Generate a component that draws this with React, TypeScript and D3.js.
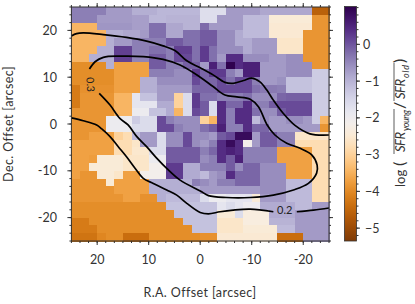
import React from 'react';
import * as d3 from 'd3';

// log(SFR young / SFR old) per cell, top row first, left (R.A. +25) to right (R.A. -25)
const row00 = [-.4,-.4,-.4,-.4,-.7,-.7,-.7,-.95,-.95,-.95,-1.05,-1.05,-1.05,-1.05,-1.05,-1.65,-1.65,-1.65,-.7,-.7,-.7,-.7,-.85,-.85,-.85,-.85,-.85,-.85,-4.6,-4.6];
const row01 = [-.4,-.4,-.4,-.7,-.7,-.7,-.7,-.75,-.75,-1.05,-1.05,-1,-1,-1,-1,-1.65,-1.65,-.7,-.7,-.7,-1.1,-1.1,-1.1,-2.45,-2.45,-2.45,-2.45,-2.45,-3.85,-3.85];
const row02 = [-3.44,-3.44,-3.44,-.65,-.65,-.65,-.65,-.75,-.75,-.25,-.25,-.85,-.85,-1,-1,-.2,-.7,-.7,-.7,-.7,-1.1,-1.1,-1.1,-2.5,-2.5,-2.5,-2.5,-2.5,-3.85,-3.85];
const row03 = [-3.44,-3.44,-3.44,-3.44,-.95,-.95,-.85,-.85,-.7,-.25,-.25,-.85,-.85,-.25,-.25,-.05,-.05,-.55,-.55,-.9,-1.1,-1.1,-1.1,-2.5,-2.5,-2.5,-2.5,-3.85,-3.85,-3.85];
const row04 = [-3.44,-3.44,-3.44,-3.44,-.95,-.7,-.7,-.4,-.4,-.4,-.4,-.05,-.05,-.25,-.25,-.05,-.05,-.55,-.55,-.9,-.9,-.7,-.7,-.7,-2.6,-2.6,-2.6,-3.85,-3.85,-3.85];
const row05 = [-3.44,-3.44,-3.44,-.95,-.95,.2,.2,-.4,-.4,-.25,-.25,-.4,.2,.2,-.25,.25,-.25,-.55,-.55,-.55,-.9,-.7,-.7,-.7,-2.6,-2.6,-2.6,-3.85,-3.85,-3.85];
const row06 = [-3.44,-3.44,-.95,-.95,-.95,.2,.2,-.45,-.45,-.05,-.05,-.4,.1,.1,-.25,.25,-.25,-.7,.4,.4,-.55,-.55,-.55,-.7,-.7,-.55,-.55,-3.85,-3.85,-3.85];
const row07 = [-3.95,-3.95,-3.95,-3.95,-.95,-3.7,-3.7,-3.7,-3.7,-.05,-.05,-.4,-.4,-.1,-.1,-.7,.55,-.25,1,.4,.55,.55,-.7,-.7,-.7,-.55,-.55,-.55,-3.85,-3.85];
const row08 = [-3.95,-3.95,-3.95,-3.95,-3.95,-3.7,-3.7,-3.7,-3.7,-.4,-.4,-.4,-.55,-.55,.25,-.15,.25,.25,-.4,-.7,.55,.55,-.7,-.7,-.7,-.55,-.55,-.55,-1.35,-1.35];
const row09 = [-3.95,-3.95,-3.95,-3.95,-3.95,-3.7,-3.7,-3.7,-.95,-.95,-.55,-.55,-.55,-.55,.1,-.15,-.15,.1,-.25,.1,.1,-.4,-.7,-.7,-.6,-1.2,-1.2,-1.2,-1.35,-1.35];
const row10 = [-4.2,-3.9,-3.9,-3.9,-3.9,-3.7,-3.7,-3.7,-.95,-.95,-.7,-.7,-.7,-.7,-.15,-.15,-.15,.1,.1,.1,.1,-.25,-.35,-.35,-.4,-1.2,-1.2,-1.2,-1.35,-1.35];
const row11 = [-4.2,-3.85,-3.85,-3.85,-3.85,-3.44,-3.44,-1.8,-1.2,-1.2,-.7,-.7,-3,-1.6,.25,-.25,-.25,-.4,-.4,-.4,-.25,-.55,-.55,-.55,-.15,-.1,-.1,-.1,-1.35,-1.35];
const row12 = [-4.2,-3.85,-3.85,-3.85,-3.85,-3.44,-3.44,-1.8,-1.8,-1.8,-.9,-.9,-3,-1.6,.25,-.05,-1.6,.4,-.15,-.15,.4,-.4,-.4,-.05,.1,.1,.1,.1,-1.35,-1.35];
const row13 = [-3.85,-3.85,-3.85,-3.85,-3.85,-3.44,-3.44,-1.95,-1.95,-1.2,-1.2,-.9,-3.44,-1.6,.1,-.05,-1.6,.4,-.4,.4,.4,-.25,-.55,-.55,-.05,.1,.1,.1,-1.35,-1.35];
const row14 = [-3.85,-3.85,-3.85,-3.85,-1.95,-1.95,-1.95,-1.35,-1.6,-1.6,.1,-.4,-.55,-.55,-.55,-3,-3.44,.4,-.4,.4,.4,-1.1,-.55,-.7,-.7,-.55,-.55,-.7,-1.35,-3.44];
const row15 = [-3.85,-3.85,-3.85,-3.85,-1.95,-1.95,-1.95,-1.6,-1.6,-1.6,.1,.1,-.4,-.55,-.55,-.25,-.05,.55,-.4,-.4,.4,-.15,-.15,-.7,-.7,-.7,-.7,-.7,-.7,-3.85];
const row16 = [-3.85,-3.85,-3.7,-3.7,-3.7,-3,-2.8,-1.1,-.7,-.7,-1.6,-.55,-.55,.1,-.55,-.55,-.7,-.05,.1,.85,.85,-.7,-.05,-.05,-.4,-.4,-2.6,-2.6,-2.6,-2.6];
const row17 = [-3.7,-3.7,-3.7,-3.7,-3.7,-2.8,-2.8,-2.6,-.7,-.7,-1.6,-.55,-.55,.1,-.55,-.7,-.4,.4,.85,.4,-2.15,-.7,-.05,-.05,-.4,-.4,-2.8,-2.8,-2.8,-2.8];
const row18 = [-3.7,-3.7,-3.7,-3.7,-3.7,-2.8,-2.8,-2.55,-2.55,-1.6,-1.6,-.05,-.05,-.05,-.05,-.4,-.15,.4,.55,.4,-.4,-.4,-.4,-.4,-3.7,-3.7,-3.7,-3.7,-2.8,-2.8];
const row19 = [-3.7,-3.7,-3.75,-2.45,-2.45,-2.45,-2.6,-2.6,-2.6,-1.95,-1.95,-.05,-.05,-.05,-.05,-.55,-.4,.4,-.05,.55,-.4,-.4,-.4,-.4,-3.7,-3.7,-3.7,-3.7,-2.8,-2.8];
const row20 = [-3.7,-3.7,-2.45,-2.45,-2.45,-2.45,-2.6,-2.6,-2.6,-2.15,-2.15,.25,.25,-.9,-.9,-.4,-.4,-.4,-.05,-.55,-.15,-.15,-.55,-.55,-.55,-3.7,-3.7,-3.7,-2.8,-2.8];
const row21 = [-3.7,-3.85,-3.85,-2.45,-2.45,-2.6,-3.7,-3.7,-2.15,-2.15,-2.15,.25,.25,-.9,-.9,-1.1,-.7,-.55,.4,-.15,-.15,-.15,-.55,-.55,-.55,-3.7,-3.7,-3.7,-2.8,-2.8];
const row22 = [-3.85,-3.85,-3.85,-3.85,-2.45,-3.7,-3.7,-3.7,-3.7,-.95,-.95,-.95,-.95,-.95,-.4,-.55,-.7,-.4,-.4,-.15,-.15,-.15,-.55,-.55,-.55,-1.1,-1.1,-1.1,-2.8,-2.8];
const row23 = [-3.85,-3.85,-3.85,-3.85,-3.85,-3.7,-3.7,-3.7,-3.7,-.95,-.95,-.95,-.95,-.95,-.95,-.7,-.7,-.7,-.7,-.7,-.7,-.7,-.55,-.55,-.55,-1.1,-1.1,-1.1,-2.8,-2.8];
const row24 = [-3.85,-3.85,-3.85,-3.85,-3.85,-3.85,-3.7,-3.7,-3.9,-3.9,-.95,-1.1,-1.1,-1.1,-1.1,-1.6,-1.95,-1.95,-1.8,-1.8,-1.8,-2.45,-.7,-.7,-.7,-1.1,-1.1,-1.1,-2.8,-2.8];
const row25 = [-3.95,-3.95,-3.95,-3.95,-3.95,-3.95,-3.95,-3.95,-3.95,-3.95,-3.95,-1.2,-1.2,-1.2,-1.2,-1.2,-1.2,-1.8,-1.6,-1.8,-2,-2,-.9,-.9,-.9,-.9,-1.1,-1.1,-.7,-.7];
const row26 = [-3.95,-3.95,-3.95,-3.95,-3.95,-3.95,-3.95,-3.95,-3.95,-3.95,-3.95,-3.95,-1.2,-1.2,-1.2,-1.2,-1.2,-2.45,-2.45,-1.6,-2.35,-2.35,-2.35,-.9,-.9,-.9,-.7,-.7,-.7,-.7];
const row27 = [-4.2,-4.2,-3.95,-3.95,-3.95,-3.95,-3.95,-3.95,-3.95,-3.95,-3.95,-3.95,-3.95,-1.2,-1.2,-1.2,-1.2,-2.6,-2.6,-2.6,-2.35,-2.35,-2.35,-1,-1,-1,-.7,-.7,-.7,-.7];
const row28 = [-4.2,-4.2,-4.2,-3.95,-3.95,-3.95,-3.95,-3.95,-3.95,-3.95,-3.95,-3.95,-3.95,-3.95,-1.2,-1.2,-1.2,-2.6,-2.6,-2.6,-2.45,-2.45,-2.45,-2.45,-1.1,-1.1,-.7,-.7,-.7,-.7];
const row29 = [-4.3,-4.3,-4.3,-4.05,-3.95,-3.95,-4.4,-4.4,-4.4,-3.95,-3.95,-3.95,-3.95,-3.95,-3.95,-3.9,-3.9,-2.5,-2.5,-2.5,-2.5,-2.5,-2.5,-2.5,-4.4,-4.4,-4.4,-.7,-.7,-.7];

const sfrRows = [
  row00, row01, row02, row03, row04, row05, row06, row07, row08, row09,
  row10, row11, row12, row13, row14, row15, row16, row17, row18, row19,
  row20, row21, row22, row23, row24, row25, row26, row27, row28, row29,
];

// contours as [R.A. offset, Dec. offset] in arcsec
const upperContour = [[25,18.8],[24,19.3],[22.7,19.45],[18.8,19.1],[14.3,18.5],[10.4,17.7],[7.2,16.7],[4.9,15.7],[2.6,13.5],[0,12],[-2.5,10.5],[-4.8,8.9],[-6.4,8.7],[-8.4,9.3],[-10,9.8],[-11.6,9],[-12.9,7.3],[-14.2,5.1],[-16.1,2.3],[-18.4,-.3],[-21.3,-2.1],[-25,-2.35]];
const loopContour = [[21.5,11.75],[20.4,13.3],[18.8,14.25],[15.6,14.5],[11,14.4],[7.2,13.8],[3.9,12.6],[0,10],[-2.5,8],[-4.8,6.2],[-7.1,5.8],[-9.7,5.3],[-11.3,3.7],[-13,-.2],[-14.5,-2.35],[-16.8,-4.1],[-19.4,-5.2],[-21.65,-6.6],[-22.7,-8.8],[-22.6,-10.5],[-21,-12.7],[-18.1,-14.1],[-14.2,-15.2],[-9.7,-15.7],[-5.1,-15.7],[-1.6,-15.3],[0,-14.3],[3.9,-12],[6.5,-9.5],[8.45,-7.3],[10.4,-4.85],[12.3,-2.7],[14,-.2],[15.6,1.2],[17.5,4.05],[19.6,6.55]];
const lowerContourA = [[25,1.3],[22.7,.7],[20.1,-.2],[19.1,-1.05],[17.5,-2.7],[15.9,-4.85],[14.3,-7],[12.65,-9.45],[11.05,-11.6],[9.1,-12.7],[6.5,-14.1],[4.55,-15.2],[2.6,-16.95],[0,-18.9],[-1.6,-19.2],[-3.85,-18.75],[-6.4,-18.4],[-9.7,-18.2],[-14.2,-18.75]];
const lowerContourB = [[-18.75,-18.75],[-22,-18.4],[-25,-17.95]];

const raTicks = [20, 10, 0, -10, -20];
const decTicks = [20, 10, 0, -10, -20];
const colorTicks = [0, -1, -2, -3, -4, -5];

const CELL = 5 / 3;
const FONT = 'Lato, "Open Sans", sans-serif';
const INK = '#333';

const x = d3.scaleLinear().domain([25, -25]).range([71.4, 329]);
const y = d3.scaleLinear().domain([25, -25]).range([7, 241]);
const cbarY = d3.scaleLinear().domain([1.03, -5.35]).range([6.5, 241]);
// d3's PuOr runs purple to orange, the chart has orange at the low end
const puOr = (t) => d3.interpolatePuOr(1 - t);
const color = d3.scaleSequential(puOr).domain([-5.35, 1.03]);

const line = d3
  .line()
  .x((d) => x(d[0]))
  .y((d) => y(d[1]))
  .curve(d3.curveCatmullRom.alpha(0.5));

// one minor tick on every cell edge
const edges = d3.range(0, 31).map((i) => 25 - i * CELL);
const colorMinor = d3.range(-26, 6).map((i) => i * 0.2);

export default function App() {
  return (
    <svg
      width={415}
      height={304}
      style={{ position: 'absolute', left: 0, top: 0 }}
      fontFamily={FONT}
      fill={INK}
    >
      <rect width={415} height={304} fill="#fff" />

      {/* the map */}
      <g shapeRendering="crispEdges">
        {sfrRows.map((row, r) =>
          row.map((v, c) => (
            <rect
              key={r + '-' + c}
              x={x(25 - c * CELL)}
              y={y(25 - r * CELL)}
              width={x(25 - (c + 1) * CELL) - x(25 - c * CELL) + 0.5}
              height={y(25 - (r + 1) * CELL) - y(25 - r * CELL) + 0.5}
              fill={color(v)}
            />
          ))
        )}
      </g>

      {/* contours */}
      <g fill="none" stroke="#000" strokeWidth={1.7}>
        <path d={line(upperContour)} />
        <path d={line(loopContour)} />
        <path d={line(lowerContourA)} />
        <path d={line(lowerContourB)} />
      </g>
      <text x={x(21.5)} y={y(8.4)} fontSize={10.5} textAnchor="middle" dominantBaseline="middle" transform={`rotate(86 ${x(21.5)} ${y(8.4)})`} fill="#222">0.3</text>
      <text x={x(-16.4)} y={y(-18.6)} fontSize={11} textAnchor="middle" dominantBaseline="middle" fill="#222">0.2</text>

      {/* frame and ticks */}
      <rect x={x(25)} y={y(25)} width={x(-25) - x(25)} height={y(-25) - y(25)} fill="none" stroke={INK} strokeWidth={1} />
      <g stroke={INK} strokeWidth={1}>
        {edges.map((e) => (
          <g key={e}>
            <line x1={x(e)} x2={x(e)} y1={y(-25)} y2={y(-25) + 2} />
            <line x1={x(e)} x2={x(e)} y1={y(25)} y2={y(25) - 2} />
            <line y1={y(e)} y2={y(e)} x1={x(25)} x2={x(25) - 2} />
            <line y1={y(e)} y2={y(e)} x1={x(-25)} x2={x(-25) + 2} />
          </g>
        ))}
        {raTicks.map((t) => (
          <g key={t}>
            <line x1={x(t)} x2={x(t)} y1={y(-25)} y2={y(-25) + 4} />
            <line x1={x(t)} x2={x(t)} y1={y(25)} y2={y(25) - 4} />
          </g>
        ))}
        {decTicks.map((t) => (
          <g key={t}>
            <line y1={y(t)} y2={y(t)} x1={x(25)} x2={x(25) - 4} />
            <line y1={y(t)} y2={y(t)} x1={x(-25)} x2={x(-25) + 4} />
          </g>
        ))}
      </g>
      {raTicks.map((t) => (
        <text key={t} x={x(t)} y={264} fontSize={12.5} textAnchor="middle">{t}</text>
      ))}
      {decTicks.map((t) => (
        <text key={t} x={57} y={y(t) + 4.5} fontSize={12.5} textAnchor="end">{t}</text>
      ))}
      <text x={200} y={297} fontSize={12.5} textAnchor="middle" letterSpacing={0.4}>R.A. Offset [arcsec]</text>
      <text transform="translate(10,124) rotate(-90)" fontSize={12.5} textAnchor="middle" dominantBaseline="middle" letterSpacing={0.4}>Dec. Offset [arcsec]</text>

      {/* colour bar */}
      <defs>
        <linearGradient id="cbar" x1="0" x2="0" y1="1" y2="0">
          {d3.range(0, 21).map((i) => (
            <stop key={i} offset={i / 20} stopColor={puOr(i / 20)} />
          ))}
        </linearGradient>
      </defs>
      <rect x={344.5} y={cbarY(1.03)} width={12} height={cbarY(-5.35) - cbarY(1.03)} fill="url(#cbar)" stroke={INK} strokeWidth={0.8} />
      <g stroke={INK} strokeWidth={1}>
        {colorMinor.map((v) => (
          <line key={v} x1={356.5} x2={358.5} y1={cbarY(v)} y2={cbarY(v)} />
        ))}
        {colorTicks.map((v) => (
          <line key={v} x1={356.5} x2={360} y1={cbarY(v)} y2={cbarY(v)} />
        ))}
      </g>
      {colorTicks.map((v) => (
        <text key={v} x={v < 0 ? 365 : 363} y={cbarY(v) + 4.5} fontSize={12.5}>
          {v < 0 ? '\u2212' + Math.abs(v) : v}
        </text>
      ))}

      {/* log(SFR young / SFR old), rotated, overlines placed by hand */}
      <g transform="translate(405,187) rotate(-90)" fontSize={13}>
        <text x={0} y={0}>log</text>
        <text x={21} y={0} fontSize={16}>(</text>
        <text x={35} y={0} fontStyle="italic" textLength={20}>SFR</text>
        <text x={56} y={4} fontSize={9} fontStyle="italic" textLength={21}>young</text>
        <text x={78} y={0} fontSize={16}>/</text>
        <text x={88} y={0} fontStyle="italic" textLength={20}>SFR</text>
        <text x={109} y={4} fontSize={9} fontStyle="italic" textLength={13}>old</text>
        <text x={124} y={0} fontSize={16}>)</text>
        <line x1={33} x2={78} y1={-11} y2={-11} stroke={INK} strokeWidth={0.8} />
        <line x1={86} x2={124} y1={-11} y2={-11} stroke={INK} strokeWidth={0.8} />
      </g>
    </svg>
  );
}
